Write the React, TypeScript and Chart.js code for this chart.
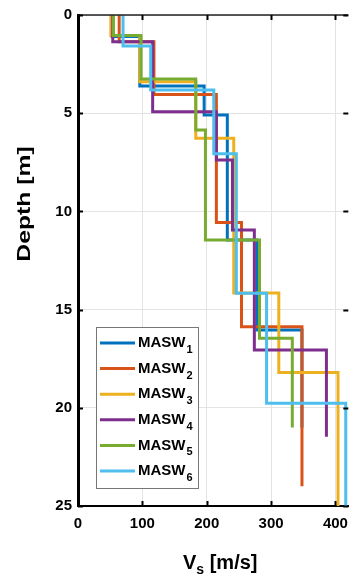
import React, { useEffect, useRef } from "react";
import { Chart, registerables } from "chart.js";

Chart.register(...registerables);

// ---- data (Vs in m/s per layer, layer boundaries in m) ----
const seriesNames = ["MASW", "MASW", "MASW", "MASW", "MASW", "MASW"];
const seriesSubs = ["1", "2", "3", "4", "5", "6"];
const colors = ["#0072BD", "#D95319", "#EDB120", "#7E2F8E", "#77AC30", "#4DBEEE"];

const vs1 = [53, 96, 196, 232, 278, 348];
const depth1 = [0, 1.1, 3.61, 5.09, 11.46, 16.04, 21];

const vs2 = [64, 118, 215, 254, 348];
const depth2 = [0, 1.36, 4.05, 10.56, 15.87, 24.0];

const vs3 = [51, 96, 183, 242, 312, 404];
const depth3 = [0, 1.05, 3.4, 6.28, 14.15, 18.2, 25];

const vs4 = [54, 116, 215, 240, 274, 386];
const depth4 = [0, 1.36, 4.92, 7.38, 10.95, 17.06, 21.47];

const vs5 = [55, 98, 183, 198, 282, 333];
const depth5 = [0, 1.04, 3.26, 5.86, 11.46, 16.46, 21.0];

const vs6 = [70, 113, 211, 246, 293, 416];
const depth6 = [0, 1.58, 3.82, 7.06, 14.17, 19.77, 25];

const xTicks = [0, 100, 200, 300, 400];
const yTicks = [0, 5, 10, 15, 20, 25];

const allVs = [vs1, vs2, vs3, vs4, vs5, vs6];
const allDepth = [depth1, depth2, depth3, depth4, depth5, depth6];

const FONT = "'Liberation Sans', Arial, Helvetica, sans-serif";

function profile(vs: number[], depth: number[]) {
  const pts: { x: number; y: number }[] = [];
  for (let i = 0; i < vs.length; i++) {
    pts.push({ x: vs[i], y: depth[i] });
    pts.push({ x: vs[i], y: depth[i + 1] });
  }
  return pts;
}

const decorPlugin = {
  id: "decor",
  afterDraw(chart: any) {
    const ctx = chart.ctx;
    const { left, right, top, bottom } = chart.chartArea;
    const xs = chart.scales.x;
    const ys = chart.scales.y;
    ctx.save();
    // top box line
    ctx.strokeStyle = "#222";
    ctx.lineWidth = 1.5;
    ctx.beginPath();
    ctx.moveTo(left, top);
    ctx.lineTo(right, top);
    ctx.stroke();
    // inward ticks
    ctx.strokeStyle = "#000";
    ctx.lineWidth = 2;
    xTicks.forEach((v) => {
      const px = Math.round(xs.getPixelForValue(v)) + 0.5;
      ctx.beginPath();
      ctx.moveTo(px, bottom);
      ctx.lineTo(px, bottom - 5);
      ctx.moveTo(px, top);
      ctx.lineTo(px, top + 5);
      ctx.stroke();
    });
    yTicks.forEach((v) => {
      const py = Math.round(ys.getPixelForValue(v)) + 0.5;
      ctx.beginPath();
      ctx.moveTo(left, py);
      ctx.lineTo(left + 5, py);
      ctx.moveTo(right, py);
      ctx.lineTo(right - 5, py);
      ctx.stroke();
    });

    // x title with subscript
    ctx.fillStyle = "#000";
    ctx.textBaseline = "alphabetic";
    ctx.textAlign = "left";
    ctx.font = `bold 20px ${FONT}`;
    const xStart = 183;
    const base = 569;
    ctx.fillText("V", xStart, base);
    const wV = ctx.measureText("V").width;
    ctx.font = `bold 14px ${FONT}`;
    ctx.fillText("s", xStart + wV, base + 5);
    const wS = ctx.measureText("s").width;
    ctx.font = `bold 20px ${FONT}`;
    ctx.fillText(" [m/s]", xStart + wV + wS, base);

    // y title
    ctx.save();
    ctx.translate(30, 204);
    ctx.rotate(-Math.PI / 2);
    ctx.scale(1.3, 1);
    ctx.textAlign = "center";
    ctx.font = `bold 19px ${FONT}`;
    ctx.fillText("Depth [m]", 0, 0);
    ctx.restore();

    // legend
    const lx = 96, ly = 327, lw = 102, lh = 161;
    ctx.fillStyle = "#fff";
    ctx.fillRect(lx, ly, lw, lh);
    ctx.strokeStyle = "#777";
    ctx.lineWidth = 1;
    ctx.strokeRect(lx + 0.5, ly + 0.5, lw, lh);
    const step = 25.6;
    for (let i = 0; i < seriesNames.length; i++) {
      const cy = ly + 16 + i * step;
      ctx.strokeStyle = colors[i];
      ctx.lineWidth = 3;
      ctx.beginPath();
      ctx.moveTo(lx + 4, cy);
      ctx.lineTo(lx + 39, cy);
      ctx.stroke();
      ctx.fillStyle = "#000";
      ctx.font = `bold 15px ${FONT}`;
      ctx.textBaseline = "middle";
      ctx.fillText(seriesNames[i], lx + 42, cy);
      const w = ctx.measureText(seriesNames[i]).width;
      ctx.font = `bold 11px ${FONT}`;
      ctx.fillText(seriesSubs[i], lx + 42 + w + 1, cy + 7);
    }
    ctx.restore();
  },
};

export default function App() {
  const ref = useRef<HTMLCanvasElement | null>(null);
  useEffect(() => {
    document.body.style.margin = "0";
    const canvas = ref.current;
    if (!canvas) return;
    const datasets = allVs.map((vs, i) => ({
      label: seriesNames[i] + seriesSubs[i],
      data: profile(vs, allDepth[i]),
      borderColor: colors[i],
      backgroundColor: colors[i],
      borderWidth: 3,
      pointRadius: 0,
      showLine: true,
      fill: false,
      tension: 0,
      order: allVs.length - 1 - i,
    }));
    const chart = new Chart(canvas, {
      type: "scatter",
      data: { datasets },
      options: {
        responsive: false,
        animation: false,
        devicePixelRatio: 1,
        layout: { padding: { top: 15, right: 1, left: 0, bottom: 0 } },
        plugins: { legend: { display: false }, tooltip: { enabled: false } },
        scales: {
          x: {
            type: "linear",
            min: 0,
            max: 420,
            afterBuildTicks: (s: any) => {
              s.ticks = xTicks.map((v) => ({ value: v }));
            },
            afterFit: (s: any) => {
              s.height = 70;
            },
            ticks: {
              font: { family: FONT, size: 15, weight: "bold" },
              color: "#000",
              padding: 9,
              maxRotation: 0,
            },
            grid: { color: "#e3e3e3", lineWidth: 1, drawTicks: false },
            border: { display: true, color: "#000", width: 2 },
          },
          y: {
            type: "linear",
            reverse: true,
            min: 0,
            max: 25,
            afterBuildTicks: (s: any) => {
              s.ticks = yTicks.map((v) => ({ value: v }));
            },
            afterFit: (s: any) => {
              s.width = 78;
            },
            ticks: {
              font: { family: FONT, size: 15, weight: "bold" },
              color: "#000",
              padding: 6,
            },
            grid: { color: "#e3e3e3", lineWidth: 1, drawTicks: false },
            border: { display: true, color: "#000", width: 3 },
          },
        },
      },
      plugins: [decorPlugin],
    });
    return () => chart.destroy();
  }, []);
  return (
    <div style={{ width: 357, height: 576 }}>
      <canvas ref={ref} width={357} height={576} />
    </div>
  );
}
